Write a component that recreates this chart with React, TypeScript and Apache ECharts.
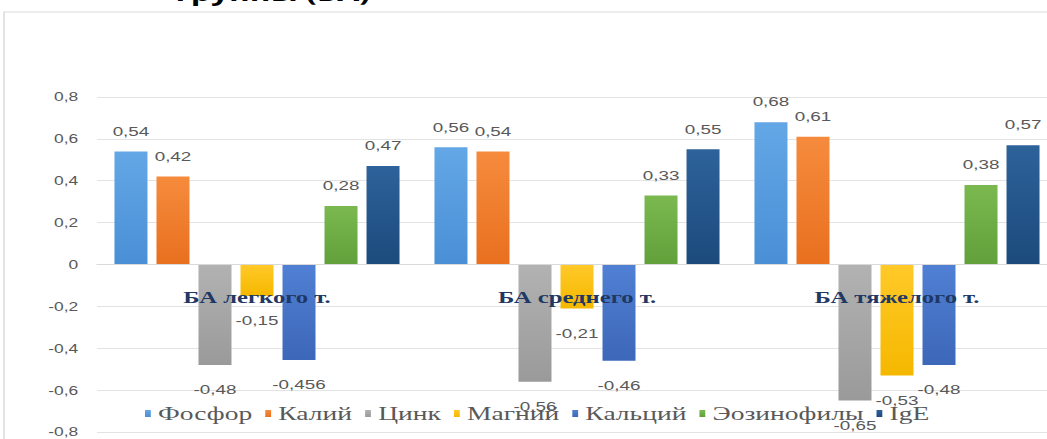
import React, { useEffect, useRef } from "react";
import * as echarts from "echarts";

const categories = ["БА легкого т.", "БА среднего т.", "БА тяжелого т."];
const seriesNames = ["Фосфор", "Калий", "Цинк", "Магний", "Кальций", "Эозинофилы", "IgE"];
const fosfor = [0.54, 0.56, 0.68];
const kaliy = [0.42, 0.54, 0.61];
const cink = [-0.48, -0.56, -0.65];
const magniy = [-0.15, -0.21, -0.53];
const kalciy = [-0.456, -0.46, -0.48];
const eozinofily = [0.28, 0.33, 0.38];
const ige = [0.47, 0.55, 0.57];
const seriesValues = [fosfor, kaliy, cink, magniy, kalciy, eozinofily, ige];
const yMin = -0.8;
const yMax = 0.8;
const yStep = 0.2;
const seriesColors = [
  ["#63a7e6", "#4a8fd6"],
  ["#f68b3d", "#e8701f"],
  ["#b2b2b2", "#9a9a9a"],
  ["#ffc928", "#f5b800"],
  ["#5080d4", "#3d67b8"],
  ["#7bb950", "#61a03a"],
  ["#2d629a", "#1c4a7c"],
];
const titleText = "группы (БА)";

const S = 1.45; // horizontal stretch of the reference picture
const W = Math.round(1047 / S);
const H = 439;
const GRID_TOP = 97;
const GRID_BOTTOM = 7;

function fmt(v: number): string {
  if (Math.abs(v) < 1e-9) return "0";
  return String(v).replace(".", ",");
}

export default function App() {
  const ref = useRef<HTMLDivElement | null>(null);
  useEffect(() => {
    if (!ref.current) return;
    const chart = echarts.init(ref.current, null, { renderer: "svg", width: W, height: H });
    const gridH = H - GRID_TOP - GRID_BOTTOM;
    const zeroOffset = (gridH * (0 - yMin)) / (yMax - yMin);
    const series = seriesNames.map((name, i) => ({
      name,
      type: "bar",
      barWidth: 33 / S,
      barGap: "27.3%",
      itemStyle: {
        color: new echarts.graphic.LinearGradient(0, 0, 0, 1, [
          { offset: 0, color: seriesColors[i][0] },
          { offset: 1, color: seriesColors[i][1] },
        ]),
      },
      label: {
        show: true,
        color: "#595959",
        fontSize: 13,
        fontFamily: "Liberation Sans",
        formatter: (p: any) => fmt(p.value),
      },
      data: seriesValues[i].map((v) => ({
        value: v,
        label: { position: v >= 0 ? "top" : "bottom", distance: v >= 0 ? 14 : 18 },
      })),
    }));
    chart.setOption({
      animation: false,
      backgroundColor: "#ffffff",
      graphic: [
        {
          type: "rect",
          z: -1,
          shape: { x: 4 / S, y: 12, width: W + 20, height: H },
          style: { fill: "none", stroke: "#d9d9d9", lineWidth: 1 },
        },
        {
          type: "text",
          x: 370 / S,
          y: 4,
          style: {
            text: titleText,
            align: "right",
            verticalAlign: "bottom",
            fontSize: 22,
            fontWeight: "bold",
            fontFamily: "Open Sans",
            fill: "#000000",
          },
        },
      ],
      grid: {
        left: 97 / S,
        width: 960 / S,
        top: GRID_TOP,
        bottom: GRID_BOTTOM,
        containLabel: false,
        outerBoundsMode: "none",
      },
      legend: {
        left: 95,
        top: 399,
        icon: "rect",
        itemWidth: 4,
        itemHeight: 7,
        itemGap: 9,
        textStyle: { fontFamily: "Liberation Serif", fontSize: 19, color: "#595959" },
        data: seriesNames,
      },
      xAxis: {
        type: "category",
        data: categories,
        z: 10,
        position: "bottom",
        offset: -zeroOffset,
        axisLine: { onZero: false, lineStyle: { color: "#d9d9d9" } },
        axisTick: { show: false },
        axisLabel: {
          margin: 24,
          fontFamily: "Liberation Serif",
          fontWeight: "bold",
          fontSize: 17,
          color: "#1f3864",
        },
      },
      yAxis: {
        type: "value",
        min: yMin,
        max: yMax,
        interval: yStep,
        axisLine: { show: false },
        axisTick: { show: false },
        splitLine: { lineStyle: { color: "#e3e3e3" } },
        axisLabel: {
          margin: 13,
          fontFamily: "Liberation Sans",
          fontSize: 12,
          color: "#595959",
          formatter: (v: number) => fmt(Math.round(v * 10) / 10),
        },
      },
      series,
    });
    return () => chart.dispose();
  }, []);
  return (
    <div
      style={{
        position: "fixed",
        left: 0,
        top: 0,
        width: 1047,
        height: H,
        overflow: "hidden",
        background: "#ffffff",
      }}
    >
      <div
        ref={ref}
        style={{ width: W, height: H, transform: `scaleX(${S})`, transformOrigin: "0 0" }}
      />
    </div>
  );
}
